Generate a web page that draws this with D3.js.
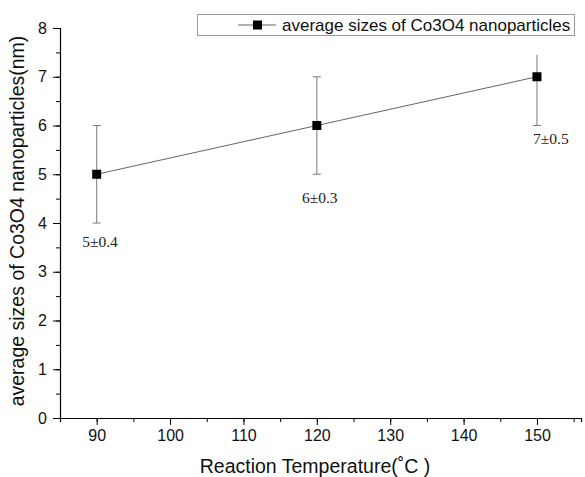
<!DOCTYPE html>
<html>
<head>
<meta charset="utf-8">
<script src="https://cdn.jsdelivr.net/npm/d3@7"></script>
<style>
  body { margin: 0; background: #fff; }
  text { font-family: "Liberation Sans", Arial, sans-serif; }
</style>
</head>
<body>
<svg id="chart"></svg>
<script>
      const W = 585, H = 477;

      // data
      var temps = [90, 120, 150];
      var sizes = [5, 6, 7];
      var errLow = [4, 5, 6];
      var errHigh = [6, 7, 7.45];
      var annotations = ["5\u00b10.4", "6\u00b10.3", "7\u00b10.5"];
      // where the annotations sit, in data units
      var annX = [90.45, 120.4, 151.9];
      var annY = [3.5, 4.42, 5.62];
      var xTicks = [90, 100, 110, 120, 130, 140, 150];
      var yTicks = [0, 1, 2, 3, 4, 5, 6, 7, 8];

      var margin = {top: 28, right: 4, bottom: 59, left: 60};

      var svg = d3.select("#chart")
        .attr("width", W)
        .attr("height", H);

      var x = d3.scaleLinear()
        .domain([85, 156])
        .range([margin.left, W - margin.right]);

      var y = d3.scaleLinear()
        .domain([0, 8])
        .range([H - margin.bottom, margin.top]);

      // X axis (major + minor ticks)
      svg.append("g")
        .attr("transform", "translate(0," + (H - margin.bottom) + ")")
        .call(d3.axisBottom(x).tickValues(d3.range(85, 156, 5)).tickSize(4).tickFormat(""))
        .call(g => g.select(".domain").attr("stroke-width", 1.2));
      svg.append("g")
        .attr("transform", "translate(0," + (H - margin.bottom) + ")")
        .call(d3.axisBottom(x).tickValues(xTicks).tickSize(7).tickPadding(5))
        .call(g => g.select(".domain").remove())
        .selectAll("text")
          .style("font-size", "16px")
          .attr("fill", "#111");

      // Y axis
      svg.append("g")
        .attr("transform", "translate(" + margin.left + ",0)")
        .call(d3.axisLeft(y).tickValues(d3.range(0, 8.01, 0.5)).tickSize(4).tickFormat(""))
        .call(g => g.select(".domain").attr("stroke-width", 1.2));
      svg.append("g")
        .attr("transform", "translate(" + margin.left + ",0)")
        .call(d3.axisLeft(y).tickValues(yTicks).tickSize(7).tickPadding(6))
        .call(g => g.select(".domain").remove())
        .selectAll("text")
          .style("font-size", "16px")
          .attr("fill", "#111");

      // axis titles
      svg.append("text")
        .attr("x", 315)
        .attr("y", 473)
        .attr("text-anchor", "middle")
        .style("font-size", "19.5px")
        .attr("fill", "#111")
        .text("Reaction Temperature(\u02daC )");

      svg.append("text")
        .attr("transform", "translate(24," + ((y(0) + y(8)) / 2 - 2) + ") rotate(-90)")
        .attr("text-anchor", "middle")
        .style("font-size", "19.5px")
        .attr("fill", "#111")
        .text("average sizes of Co3O4 nanoparticles(nm)");

      var pts = temps.map((t, i) => ({t: t, v: sizes[i], lo: errLow[i], hi: errHigh[i], lab: annotations[i], ax: annX[i], ay: annY[i]}));

      // error bars
      var eb = svg.append("g").attr("stroke", "#7a7a7a").attr("stroke-width", 1);
      eb.selectAll("line.v").data(pts).enter().append("line")
        .attr("x1", d => x(d.t)).attr("x2", d => x(d.t))
        .attr("y1", d => y(d.lo)).attr("y2", d => y(d.hi));
      eb.selectAll("line.lo").data(pts).enter().append("line")
        .attr("x1", d => x(d.t) - 4).attr("x2", d => x(d.t) + 4)
        .attr("y1", d => y(d.lo)).attr("y2", d => y(d.lo));
      // top cap is missing on the last bar in the figure
      eb.selectAll("line.hi").data(pts.slice(0, 2)).enter().append("line")
        .attr("x1", d => x(d.t) - 4).attr("x2", d => x(d.t) + 4)
        .attr("y1", d => y(d.hi)).attr("y2", d => y(d.hi));

      // the line
      svg.append("path")
        .datum(pts)
        .attr("fill", "none")
        .attr("stroke", "#666")
        .attr("stroke-width", 1)
        .attr("d", d3.line().x(d => x(d.t)).y(d => y(d.v)));

      // the points
      svg.append("g")
        .selectAll("rect")
        .data(pts)
        .enter()
        .append("rect")
          .attr("x", d => x(d.t) - 4.5)
          .attr("y", d => y(d.v) - 4.5)
          .attr("width", 9)
          .attr("height", 9)
          .attr("fill", "#000");

      // value labels
      svg.append("g")
        .selectAll("text")
        .data(pts)
        .enter()
        .append("text")
          .attr("x", d => x(d.ax))
          .attr("y", d => y(d.ay))
          .attr("text-anchor", "middle")
          .style("font-family", "'Liberation Serif', 'Times New Roman', serif")
          .style("font-size", "15.5px")
          .attr("fill", "#222")
          .text(d => d.lab);

      // legend
      var lg = svg.append("g");
      lg.append("rect")
        .attr("x", 197.5).attr("y", 14.5)
        .attr("width", 377).attr("height", 21)
        .attr("fill", "#fff")
        .attr("stroke", "#999");
      lg.append("line")
        .attr("x1", 238).attr("x2", 276)
        .attr("y1", 25).attr("y2", 25)
        .attr("stroke", "#666");
      lg.append("rect")
        .attr("x", 253).attr("y", 20.5)
        .attr("width", 9).attr("height", 9)
        .attr("fill", "#000");
      lg.append("text")
        .attr("x", 282).attr("y", 31)
        .style("font-size", "17px")
        .attr("fill", "#111")
        .text("average sizes of Co3O4 nanoparticles");
</script>
</body>
</html>
